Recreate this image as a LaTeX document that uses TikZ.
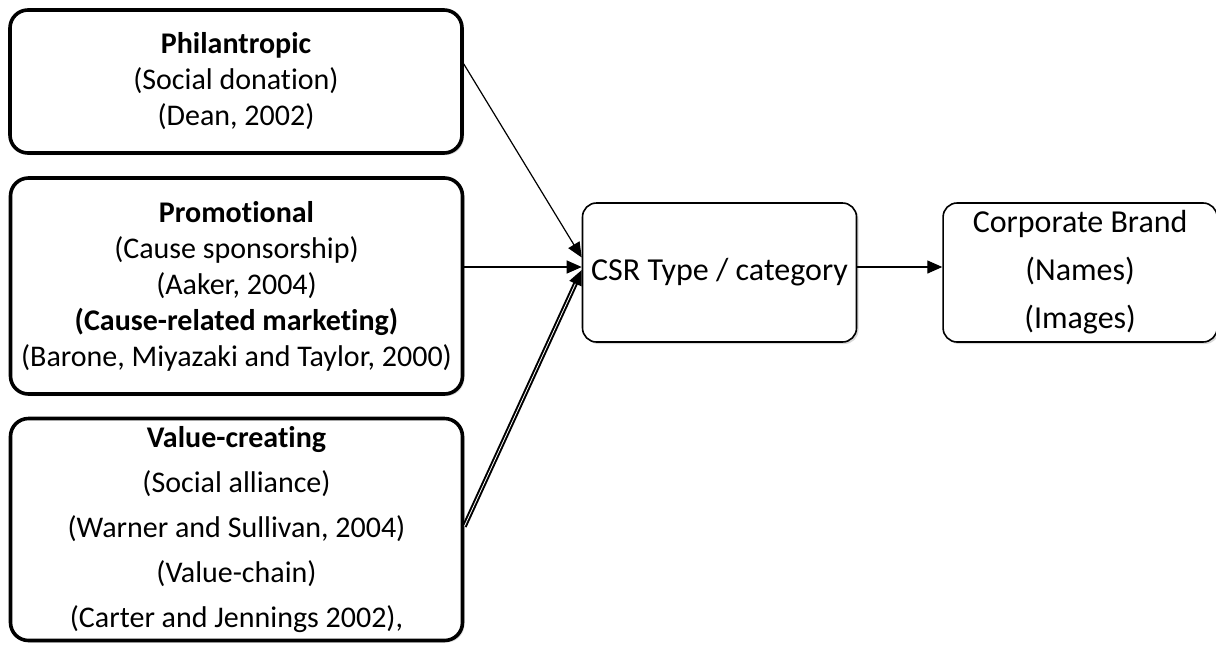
\documentclass[tikz,border=0pt]{standalone}
\usepackage{fontspec}
\setmainfont{Carlito}[Ligatures=NoCommon]
\usepackage{tikz}
\usetikzlibrary{
    arrows.meta,
    positioning,
    shadows
}

\begin{document}
\begin{tikzpicture}[
  x=0.5pt, y=-0.5pt,
  node distance=42.5pt,
  leftbox/.style={draw, line width=1.8pt, rounded corners=9pt, fill=white,
    drop shadow={shadow xshift=1pt, shadow yshift=-1pt, opacity=0.3},
    minimum width=226pt, align=center, inner sep=0pt,
    font=\fontsize{15pt}{18pt}\selectfont},
  catbox/.style={draw, line width=0.8pt, rounded corners=7pt, fill=white,
    drop shadow={shadow xshift=1pt, shadow yshift=-1pt, opacity=0.3},
    minimum width=137pt, minimum height=69.5pt, align=center, inner sep=0pt,
    font=\fontsize{16pt}{18pt}\selectfont},
  arrow/.style={-{Triangle[length=7.5pt, width=6.5pt]}, line width=0.6pt}
]
\useasboundingbox (0,0) rectangle (1216,644);

\node[leftbox, minimum height=71.5pt] (philan) at (236,81.5)
  {\textbf{Philantropic}\\(Social donation)\\(Dean, 2002)};
\node[leftbox, minimum height=108pt] (promo) at (236.5,286)
  {\textbf{Promotional}\\(Cause sponsorship)\\(Aaker, 2004)\\
   \textbf{(Cause-related marketing)}\\(Barone, Miyazaki and Taylor, 2000)};
\node[leftbox, minimum height=111pt, font=\fontsize{15pt}{22.5pt}\selectfont] (valuec) at (236.5,529.5)
  {\textbf{Value-creating}\\(Social alliance)\\(Warner and Sullivan, 2004)\\
   (Value-chain)\\(Carter and Jennings 2002),};

\node[catbox] (csr) at (719.5,272.5) {CSR Type / category};
\node[catbox, font=\fontsize{16pt}{24pt}\selectfont] (brand) [right=of csr]
  {Corporate Brand\\(Names)\\(Images)};

\draw[arrow] ([yshift=8.75pt]philan.east) -- ([yshift=7.5pt]csr.west);
\draw[arrow] ([yshift=9.5pt]promo.east) -- ([yshift=2.75pt]csr.west);
\draw[arrow, double, double distance=0.4pt, line width=1pt] ([yshift=1.5pt]valuec.east) -- ([yshift=1.25pt]csr.west);
\draw[arrow] ([yshift=2.75pt]csr.east) -- ([yshift=2.75pt]brand.west);

\end{tikzpicture}
\end{document}
